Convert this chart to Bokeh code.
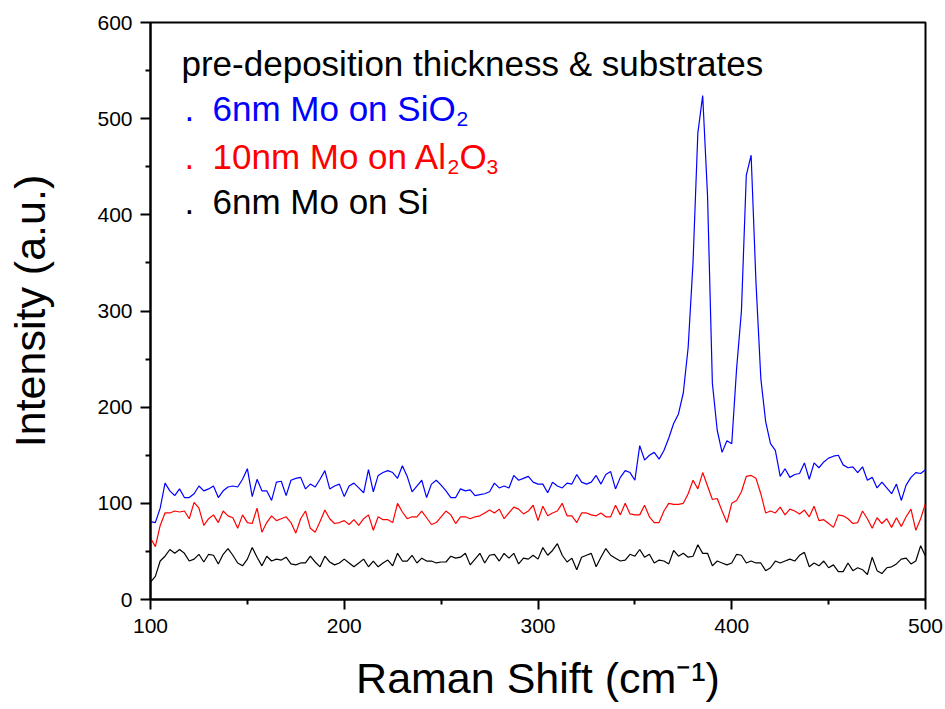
import numpy as np
from bokeh.plotting import figure
from bokeh.models import Range1d, FixedTicker, Label
from bokeh.embed import file_html
from bokeh.resources import INLINE

# ---------------- data ----------------
raman_shift = np.arange(100.0, 500.01, 2.5)

mo6_sio2 = [
    81, 80, 95, 121, 113, 108, 115, 106, 106, 110, 118, 113, 115, 118, 106, 113, 117, 118, 117, 125, 136, 107, 125, 113, 113, 103, 122,
    123, 108, 124, 126, 127, 115, 120, 117, 125, 134, 115, 118, 120, 107, 118, 121, 116, 111, 135, 112, 129, 132, 134, 132, 126, 139, 128,
    112, 118, 124, 106, 120, 124, 119, 113, 106, 106, 115, 113, 114, 108, 109, 110, 112, 121, 116, 118, 116, 129, 124, 126, 128, 122, 120,
    120, 111, 122, 118, 116, 121, 120, 130, 122, 120, 122, 129, 120, 130, 133, 115, 127, 134, 132, 124, 160, 145, 150, 153, 146, 155, 168,
    183, 193, 215, 262, 350, 485, 524, 420, 225, 176, 153, 165, 162, 240, 300, 441, 462, 330, 230, 185, 162, 155, 128, 136, 127, 130, 131,
    142, 125, 142, 137, 143, 147, 149, 150, 140, 137, 138, 132, 138, 124, 127, 116, 122, 116, 110, 120, 103, 119, 127, 132, 131, 135,
]

mo10_al2o3 = [
    64, 55, 77, 90, 90, 92, 91, 92, 84, 101, 95, 77, 84, 88, 80, 92, 87, 85, 74, 88, 80, 79, 95, 70, 80, 87, 82,
    84, 86, 80, 69, 84, 92, 74, 70, 81, 93, 84, 79, 80, 82, 78, 83, 77, 84, 88, 72, 86, 83, 83, 80, 100, 91, 84,
    86, 86, 92, 85, 78, 80, 86, 92, 88, 79, 86, 86, 84, 86, 87, 90, 93, 90, 94, 84, 90, 96, 94, 89, 92, 98, 82,
    97, 87, 90, 92, 100, 87, 87, 80, 90, 90, 88, 87, 90, 86, 86, 98, 88, 100, 89, 88, 88, 98, 86, 80, 80, 92, 100,
    99, 99, 100, 110, 124, 115, 132, 118, 104, 105, 92, 80, 100, 103, 112, 128, 129, 126, 110, 90, 92, 90, 96, 88, 94, 92, 89,
    93, 86, 97, 82, 83, 79, 75, 88, 87, 84, 79, 80, 92, 84, 74, 85, 79, 84, 75, 85, 76, 86, 94, 72, 84, 100,
]

mo6_si = [
    18, 24, 40, 45, 52, 48, 52, 48, 40, 42, 47, 39, 47, 46, 37, 47, 53, 46, 38, 35, 42, 54, 44, 35, 45, 40, 42,
    41, 44, 37, 36, 38, 38, 45, 39, 34, 45, 39, 36, 38, 42, 38, 34, 38, 42, 34, 40, 34, 38, 41, 35, 48, 40, 40,
    46, 38, 43, 40, 40, 38, 39, 39, 45, 43, 44, 48, 36, 42, 48, 38, 46, 47, 40, 48, 43, 48, 37, 43, 42, 46, 42,
    54, 46, 51, 58, 46, 39, 43, 31, 44, 46, 48, 34, 44, 53, 46, 43, 40, 41, 47, 45, 52, 44, 47, 38, 41, 40, 37,
    51, 45, 48, 44, 45, 57, 48, 48, 35, 40, 38, 36, 38, 47, 46, 38, 40, 38, 38, 30, 33, 40, 38, 40, 42, 40, 46,
    49, 34, 38, 35, 40, 33, 36, 29, 29, 38, 30, 33, 31, 26, 44, 30, 27, 33, 34, 37, 42, 43, 37, 40, 56, 45,
]

x_major_ticks = [100, 200, 300, 400, 500]
x_minor_ticks = [150, 250, 350, 450]
y_major_ticks = [0, 100, 200, 300, 400, 500, 600]
y_minor_ticks = [50, 150, 250, 350, 450, 550]

x_title = "Raman Shift (cm\u207b\u00b9)"
y_title = "Intensity (a.u.)"
legend_title = "pre-deposition thickness & substrates"
series_names = ["6nm Mo on SiO", "10nm Mo on Al", "6nm Mo on Si"]
series_colors = ["#0000FF", "#FF0000", "#000000"]

# ---------------- layout helpers (picture pixels -> data) ----------------
FL, FR, FT, FB = 150, 925, 22, 599
X0, X1, Y0, Y1 = 100, 500, 0, 600


def dx(px):
    return X0 + (px - FL) * (X1 - X0) / (FR - FL)


def dy(py):
    return Y0 + (FB - py) * (Y1 - Y0) / (FB - FT)


FONT = "Liberation Sans"

p = figure(
    frame_width=FR - FL, frame_height=FB - FT,
    min_border_left=FL, min_border_right=945 - FR, min_border_top=FT, min_border_bottom=709 - FB,
    x_range=Range1d(X0, X1), y_range=Range1d(Y0, Y1),
    output_backend="svg", toolbar_location=None,
)
p.xgrid.visible = False
p.ygrid.visible = False
p.outline_line_color = "black"
p.outline_line_width = 2
p.background_fill_color = "white"
p.border_fill_color = "white"

p.xaxis.ticker = FixedTicker(ticks=x_major_ticks, minor_ticks=x_minor_ticks)
p.yaxis.ticker = FixedTicker(ticks=y_major_ticks, minor_ticks=y_minor_ticks)
for ax in (p.xaxis[0], p.yaxis[0]):
    ax.axis_line_width = 2
    ax.axis_line_color = "black"
    ax.major_tick_line_width = 2
    ax.minor_tick_line_width = 2
    ax.major_tick_out = 10
    ax.major_tick_in = 0
    ax.minor_tick_out = 5
    ax.minor_tick_in = 0
    ax.major_label_text_font = FONT
    ax.major_label_text_font_size = "21px"
    ax.major_label_text_color = "black"
    ax.axis_label_text_font = FONT
    ax.axis_label_text_font_size = "43px"
    ax.axis_label_text_font_style = "normal"
    ax.axis_label_text_color = "black"
p.xaxis.major_label_standoff = 9
p.yaxis.major_label_standoff = 8
p.xaxis.axis_label = x_title
p.yaxis.axis_label = y_title
p.xaxis.axis_label_standoff = 18
p.yaxis.axis_label_standoff = 40

p.line(raman_shift, mo6_si, line_color=series_colors[2], line_width=1.2)
p.line(raman_shift, mo10_al2o3, line_color=series_colors[1], line_width=1.2)
p.line(raman_shift, mo6_sio2, line_color=series_colors[0], line_width=1.2)


def lab(text, px, py, size, color="black", **kw):
    p.add_layout(Label(x=dx(px), y=dy(py), text=text, text_font=FONT,
                       text_font_size=f"{size}px", text_color=color,
                       text_baseline="alphabetic", **kw))


# legend block
lab(legend_title, 181, 63, 35)
base = [108, 156, 201]
for name, col, b in zip(series_names, series_colors, base):
    lab(".", 184, b, 35, col)
    lab(name, 212, b, 35, col)
lab("2", 456, 118, 21, series_colors[0])
lab("2", 447, 166, 21, series_colors[1])
lab("O", 459, 156, 35, series_colors[1])
lab("3", 486, 166, 21, series_colors[1])

open("out.html", "w").write(file_html(p, INLINE))
